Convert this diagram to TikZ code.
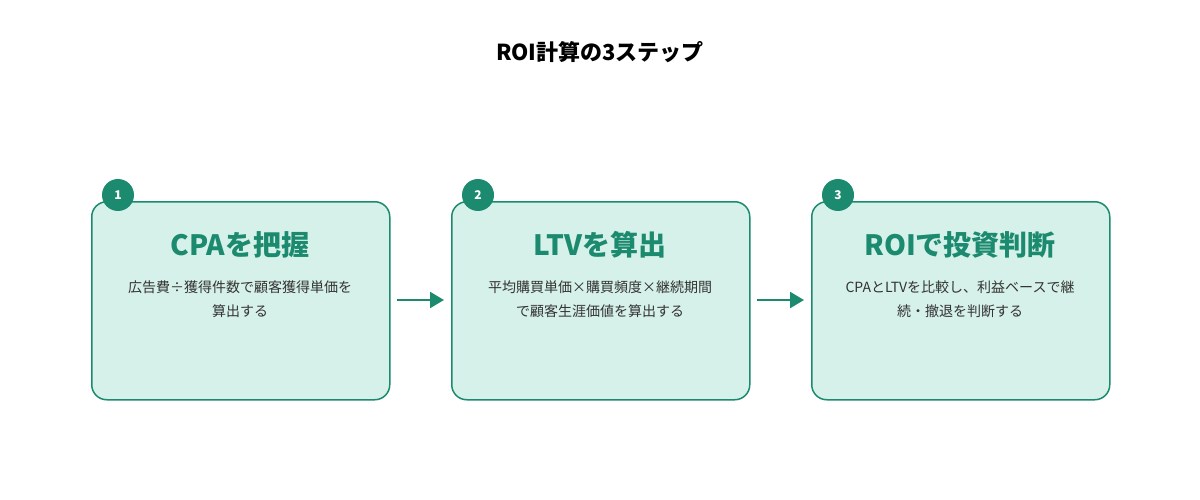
\documentclass[tikz,border=0pt]{standalone}
\usepackage{fontspec}
\setmainfont{Noto Sans CJK JP}
\usetikzlibrary{arrows.meta}
\definecolor{gr}{HTML}{1B8A6F}
\definecolor{lf}{HTML}{D6F1E9}
\definecolor{tx}{HTML}{333333}
\begin{document}
\begin{tikzpicture}[x=1pt,y=-1pt,
 box/.style={draw=gr,line width=1.5pt,fill=lf,rounded corners=15pt,minimum width=298pt,minimum height=198pt,anchor=north west},
 num/.style={circle,fill=gr,text=white,minimum size=32pt,inner sep=0,font=\bfseries\fontsize{12}{12}\selectfont},
 ttl/.style={text=gr,font=\bfseries\fontsize{28}{30}\selectfont},
 desc/.style={text=tx,align=center,font=\fontsize{14}{24}\selectfont},
 arr/.style={draw=gr,line width=2.5pt,-{Triangle[length=14pt,width=16pt]}}]
\useasboundingbox (0,0) rectangle (1200,500);
\node[font=\bfseries\fontsize{22}{24}\selectfont,text=black] (title) at (600,52) {ROI計算の3ステップ};
\foreach \i/\x/\t/\d in {1/91/CPAを把握/{広告費÷獲得件数で顧客獲得単価を\\算出する},2/451/LTVを算出/{平均購買単価×購買頻度×継続期間\\で顧客生涯価値を算出する},3/811/ROIで投資判断/{CPAとLTVを比較し、利益ベースで継\\続・撤退を判断する}}{
 \node[box] (b\i) at (\x,201) {};
 \node[num] (n\i) at (\x+27,195) {\i};
 \node[ttl] (t\i) at (\x+149,245) {\t};
 \node[desc] (d\i) at (\x+149,299) {\d};
}
\coordinate (a1) at (397,300); \coordinate (e1) at (444,300);
\coordinate (a2) at (757,300); \coordinate (e2) at (804,300);
\draw[arr] (a1) -- (e1);
\draw[arr] (a2) -- (e2);
\end{tikzpicture}
\end{document}
